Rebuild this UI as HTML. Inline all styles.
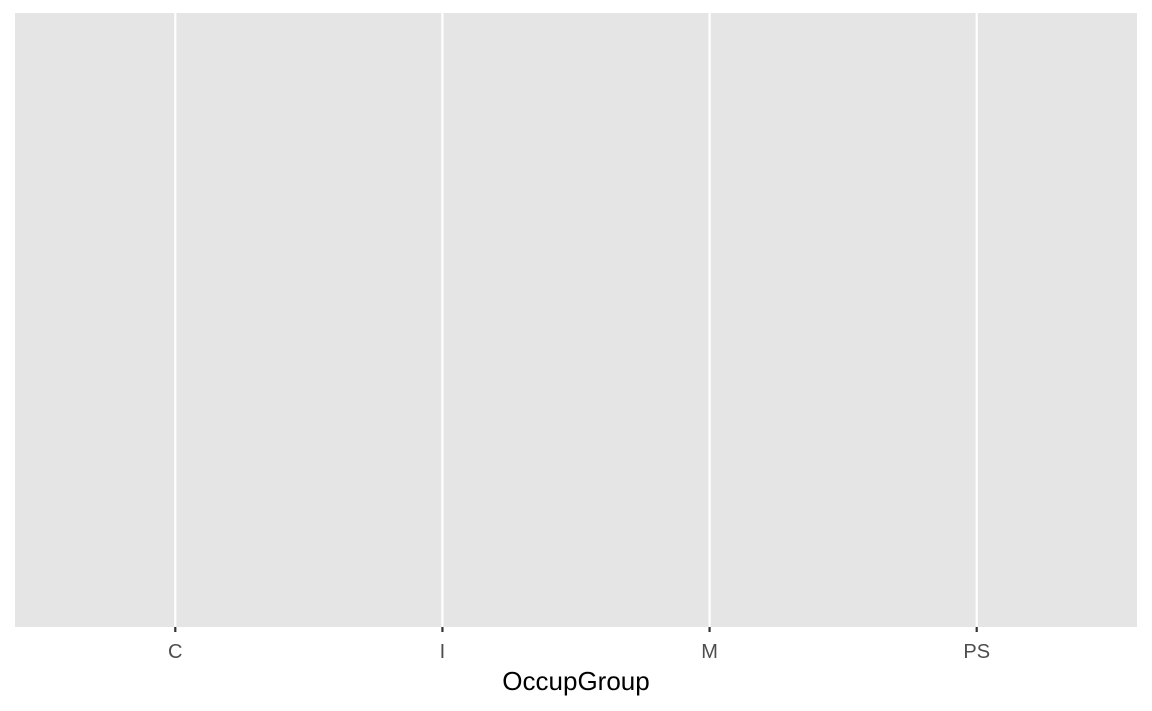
<!DOCTYPE html>
<html><head><meta charset="utf-8"><style>
body{margin:0;background:#fff;}
svg{display:block;font-family:"Liberation Sans",Arial,sans-serif;}
</style></head><body>
<svg id="chart" width="1152" height="711">
<rect x="15" y="13" width="1122" height="614" fill="#e5e5e5"/>
<g id="grid"></g><g id="axis"></g>
<text x="576" y="690" text-anchor="middle" font-size="26" fill="#000">OccupGroup</text>
</svg>
<script>
const categories = ["C","I","M","PS"];
const pLeft = 15, pRight = 1137, pTop = 13, pBottom = 627;
function xScale(i){ const lo = 0.4, hi = categories.length + 0.6; return pLeft + ((i+1) - lo) / (hi - lo) * (pRight - pLeft); }
const ns = "http://www.w3.org/2000/svg";
const grid = document.getElementById('grid'), axis = document.getElementById('axis');
categories.forEach((c,i)=>{
  const x = xScale(i);
  const g = document.createElementNS(ns,'line');
  g.setAttribute('x1',x);g.setAttribute('x2',x);g.setAttribute('y1',pTop);g.setAttribute('y2',pBottom);
  g.setAttribute('stroke','#fff');g.setAttribute('stroke-width','2.2');
  
  
  grid.appendChild(g);
  const t = document.createElementNS(ns,'line');
  t.setAttribute('x1',x);t.setAttribute('x2',x);t.setAttribute('y1',pBottom);t.setAttribute('y2',pBottom+5);
  t.setAttribute('stroke','#333');t.setAttribute('stroke-width','2.2');
  
  
  axis.appendChild(t);
  const l = document.createElementNS(ns,'text');
  l.setAttribute('x',x);l.setAttribute('y',658);l.setAttribute('text-anchor','middle');
  l.setAttribute('font-size','20');l.setAttribute('fill','#4d4d4d');
  l.textContent = c;
  
  
  axis.appendChild(l);
});
</script>
</body></html>
